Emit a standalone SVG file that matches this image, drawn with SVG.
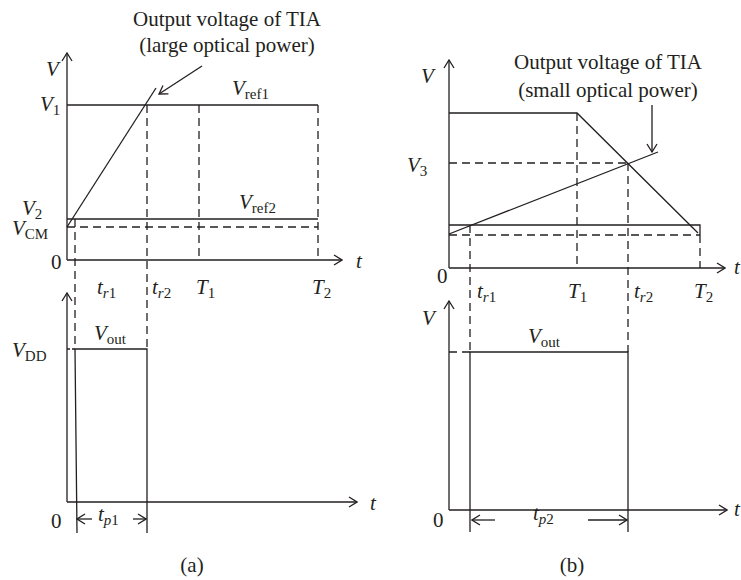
<svg xmlns="http://www.w3.org/2000/svg" width="741" height="580" viewBox="0 0 741 580">
<style>
.ln{stroke:#231f20;stroke-width:1.3;fill:none}
.ds{stroke:#231f20;stroke-width:1.3;fill:none;stroke-dasharray:8,5}
.tx{font-family:"Liberation Serif","DejaVu Serif",serif;fill:#231f20;font-size:21px}
.it{font-style:italic}
.sb{font-size:15px;font-style:normal}
.si{font-size:15px;font-style:italic}
</style>
<defs>
<marker id="ah" viewBox="0 0 10 12" refX="9" refY="6" markerWidth="10" markerHeight="12" markerUnits="userSpaceOnUse" orient="auto">
<path d="M1,1 L9,6 L1,11" fill="none" stroke="#231f20" stroke-width="1.3"/>
</marker>
</defs>
<rect width="741" height="580" fill="#fff"/>

<g id="panel-a-top">
<g id="axes-a-top">
<line class="ln" x1="67" y1="260" x2="67" y2="53" marker-end="url(#ah)"/>
<line class="ln" x1="67" y1="260" x2="342" y2="260" marker-end="url(#ah)"/>
</g>
<g id="vref1-a"><line class="ln" x1="67" y1="105" x2="318" y2="105"/></g>
<g id="vref2-a"><line class="ln" x1="67" y1="219" x2="318" y2="219"/></g>
<g id="vcm-a"><line class="ds" x1="67" y1="227" x2="318" y2="227"/></g>
<g id="ramp-a"><line class="ln" x1="67" y1="227" x2="156" y2="88"/></g>
<g id="labels-a-top" class="tx">
<text x="227" y="26" text-anchor="middle">Output voltage of TIA</text>
<text x="227" y="52" text-anchor="middle">(large optical power)</text>
<text x="46" y="76" class="it">V</text>
<text x="40" y="111"><tspan class="it">V</tspan><tspan class="sb" dy="4">1</tspan></text>
<text x="232" y="95"><tspan class="it">V</tspan><tspan class="sb" dy="4">ref1</tspan></text>
<text x="22" y="215"><tspan class="it">V</tspan><tspan class="sb" dy="4">2</tspan></text>
<text x="12" y="235"><tspan class="it">V</tspan><tspan class="sb" dy="4">CM</tspan></text>
<text x="239" y="209"><tspan class="it">V</tspan><tspan class="sb" dy="4">ref2</tspan></text>
<text x="51" y="269">0</text>
<text x="356" y="268" class="it">t</text>
<text x="97" y="294"><tspan class="it">t</tspan><tspan class="si" dy="4">r</tspan><tspan class="sb">1</tspan></text>
<text x="152" y="294"><tspan class="it">t</tspan><tspan class="si" dy="4">r</tspan><tspan class="sb">2</tspan></text>
<text x="196" y="294"><tspan class="it">T</tspan><tspan class="sb" dy="4">1</tspan></text>
<text x="312" y="294"><tspan class="it">T</tspan><tspan class="sb" dy="4">2</tspan></text>
</g>
</g>

<g id="panel-a-bottom">
<g id="axes-a-bottom">
<line class="ln" x1="67" y1="502" x2="67" y2="293" marker-end="url(#ah)"/>
<line class="ln" x1="67" y1="502" x2="357" y2="502" marker-end="url(#ah)"/>
</g>
<g id="pulse-a">
<line class="ln" x1="67" y1="349" x2="75" y2="349" stroke-dasharray="3,2"/>
<polyline class="ln" points="77,533 75,349 147,349 147,533"/>
</g>
<g id="labels-a-bottom" class="tx">
<text x="94" y="340"><tspan class="it">V</tspan><tspan class="sb" dy="4">out</tspan></text>
<text x="12" y="357"><tspan class="it">V</tspan><tspan class="sb" dy="4">DD</tspan></text>
<text x="51" y="528">0</text>
<text x="370" y="510" class="it">t</text>
<text x="98" y="521"><tspan class="it">t</tspan><tspan class="si" dy="4">p</tspan><tspan class="sb">1</tspan></text>
<text x="192" y="572" text-anchor="middle">(a)</text>
</g>
</g>

<g id="panel-b-top">
<g id="axes-b-top">
<line class="ln" x1="449" y1="268" x2="449" y2="60" marker-end="url(#ah)"/>
<line class="ln" x1="449" y1="268" x2="725" y2="268" marker-end="url(#ah)"/>
</g>
<g id="decay-b"><polyline class="ln" points="449,113 577,113 698,233"/></g>
<g id="ref-rect-b">
<polyline class="ln" points="449,225 700,225 700,235"/>
<line class="ds" x1="449" y1="235" x2="700" y2="235"/>
</g>
<g id="ramp-b"><line class="ln" x1="449" y1="234" x2="658" y2="152"/></g>
<g id="v3-b"><line class="ds" x1="449" y1="163" x2="628" y2="163"/></g>
<g id="labels-b-top" class="tx">
<text x="608" y="69" text-anchor="middle">Output voltage of TIA</text>
<text x="608" y="97" text-anchor="middle">(small optical power)</text>
<text x="421" y="83" class="it">V</text>
<text x="407" y="172"><tspan class="it">V</tspan><tspan class="sb" dy="4">3</tspan></text>
<text x="437" y="283">0</text>
<text x="734" y="274" class="it">t</text>
<text x="477" y="298"><tspan class="it">t</tspan><tspan class="si" dy="4">r</tspan><tspan class="sb">1</tspan></text>
<text x="568" y="298"><tspan class="it">T</tspan><tspan class="sb" dy="4">1</tspan></text>
<text x="634" y="298"><tspan class="it">t</tspan><tspan class="si" dy="4">r</tspan><tspan class="sb">2</tspan></text>
<text x="694" y="298"><tspan class="it">T</tspan><tspan class="sb" dy="4">2</tspan></text>
</g>
</g>

<g id="panel-b-bottom">
<g id="axes-b-bottom">
<line class="ln" x1="449" y1="510" x2="449" y2="301" marker-end="url(#ah)"/>
<line class="ln" x1="449" y1="510" x2="727" y2="510" marker-end="url(#ah)"/>
</g>
<g id="pulse-b">
<line class="ds" x1="449" y1="352" x2="470" y2="352"/>
<polyline class="ln" points="470,532 470,352 628,352 628,532"/>
</g>
<g id="labels-b-bottom" class="tx">
<text x="422" y="325" class="it">V</text>
<text x="528" y="343"><tspan class="it">V</tspan><tspan class="sb" dy="4">out</tspan></text>
<text x="433" y="527">0</text>
<text x="734" y="516" class="it">t</text>
<text x="533" y="520"><tspan class="it">t</tspan><tspan class="si" dy="4">p</tspan><tspan class="sb">2</tspan></text>
<text x="572" y="572" text-anchor="middle">(b)</text>
</g>
</g>

<g id="connectors">
<line class="ds" x1="147" y1="105" x2="147" y2="349"/>
<line class="ds" x1="199" y1="105" x2="199" y2="260"/>
<line class="ds" x1="318" y1="105" x2="318" y2="260"/>
<line class="ds" x1="75" y1="219" x2="75" y2="349"/>
<line class="ln" x1="202" y1="66" x2="159" y2="94" marker-end="url(#ah)"/>
<line class="ln" x1="92" y1="519" x2="77" y2="519" marker-end="url(#ah)"/>
<line class="ln" x1="133" y1="519" x2="146" y2="519" marker-end="url(#ah)"/>
<line class="ds" x1="577" y1="113" x2="577" y2="268"/>
<line class="ds" x1="700" y1="235" x2="700" y2="268"/>
<line class="ds" x1="628" y1="163" x2="628" y2="352"/>
<line class="ds" x1="470" y1="225" x2="470" y2="352"/>
<line class="ln" x1="652" y1="105" x2="652" y2="152" marker-end="url(#ah)"/>
<line class="ln" x1="495" y1="520" x2="472" y2="520" marker-end="url(#ah)"/>
<line class="ln" x1="588" y1="520" x2="627" y2="520" marker-end="url(#ah)"/>
</g>
</svg>
